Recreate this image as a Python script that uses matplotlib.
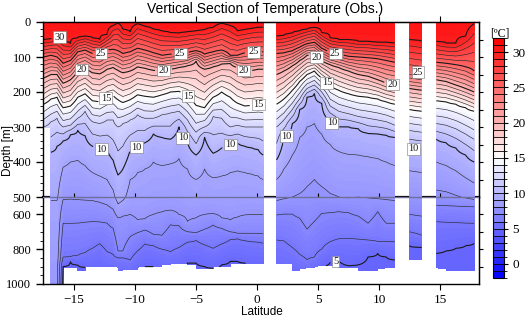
import numpy as np
import matplotlib
matplotlib.use("Agg")
import matplotlib.pyplot as plt
from matplotlib.colors import ListedColormap, BoundaryNorm
from matplotlib.cm import ScalarMappable
from matplotlib.ticker import FixedLocator, MultipleLocator

nan = np.nan
# ---------------- data: station latitudes (zero-bottom columns are data gaps)
lat = [-17.5, -16.9, -16.4, -15.9, -15.3, -14.7, -14.1, -13.5, -12.9, -12.3, -11.8, -11.4, -11.0,
       -10.4, -9.8, -9.2, -8.5, -7.8, -7.1, -6.4, -5.7, -5.0, -4.3, -3.6, -2.9, -2.2, -1.6, -1.0,
       -0.4, 0.1, 0.5,
       1.0,
       1.6, 2.2, 2.9, 3.5, 4.1, 4.7, 5.3, 6.0, 6.7, 7.5, 8.3, 9.1, 9.9, 10.6, 11.3,
       11.9,
       12.5, 13.5,
       14.1,
       14.7, 15.5, 16.3, 17.1, 17.8]
# deepest observed depth at each station [m]
bottom = [300, 1000, 1000, 1000, 903, 920, 920, 902, 902, 902, 902, 925, 925, 916, 916, 902, 902, 902,
          885, 885, 885, 911, 911, 911, 902, 902, 883, 883, 883, 883, 880,
          0,
          880, 880, 920, 920, 908, 908, 897, 897, 905, 905, 920, 920, 920, 908, 908,
          0,
          862, 862,
          0,
          908, 926, 920, 920, 920]
surface_temp = 30.6
deep_temp = 4.0
# depth [m] of isotherms at each station
d30 = [50, 48, 42, 55, 62, 45, 40, 45, 50, 35, 10, 3, 20, 28, 5, 12, 20, 26, 30, 32, 28, 25, 22, 15, 3, 10, 25, 22, 18, 15, 15,
       nan, 40, 38, 32, 25, 20, 15, 30, 45, 50, 50, 55, 55, 58, 58, 60, nan, 50, 55, nan, 55, 60, 60, 40, 5]
d25 = [100, 95, 100, 118, 110, 85, 80, 90, 92, 80, 78, 82, 90, 85, 75, 80, 88, 95, 92, 90, 88, 82, 92, 85, 80, 95, 95, 88, 85, 85, 85,
       nan, 90, 88, 82, 72, 62, 58, 75, 88, 92, 98, 100, 102, 105, 110, 115, nan, 140, 145, nan, 115, 118, 122, 128, 140]
d20 = [160, 150, 150, 175, 165, 140, 130, 145, 148, 135, 130, 138, 145, 140, 128, 132, 138, 140, 135, 130, 125, 112, 135, 128, 120, 118, 130, 140, 138, 135, 135,
       nan, 150, 140, 125, 110, 95, 95, 110, 122, 130, 140, 150, 155, 165, 175, 180, nan, 190, 195, nan, 165, 170, 180, 190, 200]
d15 = [235, 220, 215, 245, 240, 215, 205, 225, 228, 215, 210, 222, 230, 222, 208, 212, 215, 208, 200, 198, 210, 238, 245, 215, 200, 215, 232, 240, 238, 236, 238,
       nan, 235, 220, 195, 170, 150, 140, 160, 182, 195, 205, 212, 215, 220, 228, 235, nan, 250, 255, nan, 225, 228, 235, 245, 255]
d12 = [300, 285, 275, 300, 295, 275, 255, 285, 290, 280, 280, 300, 290, 280, 265, 275, 275, 265, 260, 255, 280, 315, 300, 270, 275, 300, 295, 300, 300, 300, 300,
       nan, 300, 280, 250, 220, 190, 180, 200, 240, 255, 262, 270, 275, 280, 285, 295, nan, 310, 315, nan, 290, 295, 305, 320, 335]
d10 = [385, 372, 355, 340, 322, 310, 325, 355, 362, 366, 395, 437, 420, 366, 355, 345, 320, 330, 335, 300, 345, 380, 330, 375, 360, 350, 345, 355, 360, 365, 380,
       nan, 394, 330, 290, 250, 215, 204, 232, 280, 299, 299, 305, 318, 320, 323, 330, nan, 360, 365, nan, 335, 345, 360, 380, 400]
d9 = [460, 520, 520, 415, 400, 395, 410, 430, 440, 450, 480, 540, 520, 450, 430, 420, 400, 410, 405, 390, 420, 450, 420, 445, 440, 430, 425, 430, 435, 440, 450,
      nan, 450, 420, 380, 330, 300, 290, 320, 350, 370, 378, 380, 385, 390, 400, 410, nan, 425, 430, nan, 400, 410, 425, 445, 460]
d8 = [525, 1100, 1100, 515, 512, 515, 518, 520, 530, 545, 570, 620, 610, 600, 630, 625, 600, 585, 575, 600, 640, 620, 600, 595, 620, 632, 615, 603, 600, 600, 600,
      nan, 520, 510, 500, 490, 470, 450, 470, 490, 500, 505, 500, 505, 510, 515, 520, nan, 500, 505, nan, 480, 485, 495, 505, 515]
d7 = [655, 1150, 1150, 651, 651, 650, 645, 641, 643, 650, 680, 810, 810, 728, 705, 690, 715, 720, 660, 665, 700, 705, 685, 661, 680, 700, 709, 709, 709, 709, 712,
      nan, 603, 598, 598, 622, 685, 640, 594, 590, 584, 590, 610, 651, 584, 651, 651, nan, 600, 610, nan, 548, 550, 552, 555, 556]
d6 = [850, 1200, 1200, 845, 843, 835, 820, 795, 768, 814, 830, 850, 850, 862, 810, 770, 780, 800, 814, 790, 760, 750, 775, 795, 770, 745, 740, 750, 757, 760, 765,
      nan, 747, 752, 790, 830, 860, 845, 800, 757, 740, 737, 742, 747, 755, 757, 757, nan, 700, 720, nan, 642, 645, 647, 650, 651]
d5 = [950, 1250, 1250, 900, 872, 891, 905, 910, 910, 920, 930, 940, 940, 950, 920, 900, 900, 910, 920, 910, 880, 880, 900, 910, 890, 870, 870, 880, 890, 890, 890,
      nan, 960, 960, 960, 960, 960, 930, 900, 875, 865, 895, 890, 845, 825, 845, 862, nan, 780, 790, nan, 824, 810, 795, 780, 766]
iso_temps = [30, 25, 20, 15, 12, 10, 9, 8, 7, 6, 5]

# ---------------- build the section from the isotherm table
lat_arr = np.array(lat, float)
depth = np.arange(0, 1000.1, 2.5)
iso = np.array([d30, d25, d20, d15, d12, d10, d9, d8, d7, d6, d5], float)
T = np.full((depth.size, lat_arr.size), np.nan)
for j in range(lat_arr.size):
    if bottom[j] <= 0:
        continue
    zs, ts = [0.0], [surface_temp]
    for k, tk in enumerate(iso_temps):
        if iso[k, j] > zs[-1]:
            zs.append(iso[k, j]); ts.append(tk)
    zs.append(max(1300.0, zs[-1] + 50)); ts.append(deep_temp)
    col = np.interp(depth, zs, ts)
    col[depth > bottom[j]] = np.nan
    T[:, j] = col
Tm = np.ma.masked_invalid(T)

# ---------------- figure
serif = ['Liberation Serif', 'DejaVu Serif']
sans = ['Liberation Sans', 'DejaVu Sans']
fig = plt.figure(figsize=(5.25, 3.21), dpi=100)
L, W = 43 / 525, 436 / 525
ax1 = fig.add_axes([L, 1 - 197 / 321, W, 175 / 321])
ax2 = fig.add_axes([L, 1 - 284 / 321, W, 87 / 321])

cmap = plt.get_cmap('bwr')
fill_levels = np.arange(-2, 32.01, 0.2)
minor_levels = [l for l in range(1, 32) if l % 5 != 0]
major_levels = [5, 10, 15, 20, 25, 30]
css = []
for ax in (ax1, ax2):
    ax.contourf(lat_arr, depth, Tm, levels=fill_levels, cmap=cmap, vmin=-2, vmax=32, zorder=1)
    ax.contour(lat_arr, depth, Tm, levels=minor_levels, colors='#2a2a2a', linewidths=0.45, zorder=2)
    cs = ax.contour(lat_arr, depth, Tm, levels=major_levels, colors='#1a1a1a', linewidths=0.8, zorder=2)
    css.append(cs)
    ax.set_xlim(-17.55, 18.2)

ax1.set_ylim(500, 0)
ax2.set_ylim(1000, 500)

# contour labels
pos1 = [(-16.1, 30), (-12.8, 90), (-6.3, 92), (-0.3, 86), (6.4, 92), (13.2, 143),
        (-14.3, 143), (-7.7, 131), (-1.1, 140), (4.75, 106), (11.1, 180),
        (-12.2, 226), (-5.3, 200), (0.1, 237), (5.8, 171),
        (-12.8, 368), (-9.9, 357), (-6.0, 329), (-2.2, 349), (6.3, 283), (2.4, 326), (12.8, 363)]
pos2 = [(6.4, 862)]
for cs, pos in zip(css, (pos1, pos2)):
    txts = cs.clabel(manual=pos, inline=True, inline_spacing=2, fontsize=7.5, fmt='%d')
    for t in txts:
        t.set_rotation(0)
        t.set_fontfamily(serif)
        t.set_bbox(dict(boxstyle='square,pad=0.12', fc='white', ec='#777777', lw=0.4))
        t.set_zorder(4)

# 500 m division line: black where there is no data, faint over the data
ax2.spines['top'].set_visible(False)
ax1.spines['bottom'].set_zorder(0.5)
ax1.spines['bottom'].set_linewidth(1.6)
for ax in (ax1, ax2):
    ax.axhline(500, color='#6f6f9a', lw=1.0, zorder=3)

xt = [-15, -10, -5, 0, 5, 10, 15]
# upper axes ticks
ax1.set_xticks(xt)
ax1.tick_params(axis='x', direction='in', length=3, labelbottom=False)
sx = ax1.secondary_xaxis('top')
sx.set_xticks(xt)
sx.tick_params(direction='out', length=4, labeltop=False)
ax1.set_yticks([0, 100, 200, 300, 400, 500])
ax1.yaxis.set_minor_locator(MultipleLocator(20))
ax1.tick_params(axis='y', which='major', direction='out', length=5, width=1.0, labelsize=9)
ax1.tick_params(axis='y', which='minor', direction='out', length=2.5)
sy = ax1.secondary_yaxis('right')
sy.set_yticks(np.arange(50, 500, 50))
sy.tick_params(direction='out', length=3, labelright=False)

# lower axes ticks
ax2.set_xticks(xt)
ax2.tick_params(axis='x', direction='out', length=4, labelsize=9.5)
ax2.set_yticks([600, 800, 1000])
ax2.yaxis.set_minor_locator(FixedLocator(np.arange(550, 1000, 50)))
ax2.tick_params(axis='y', which='major', direction='out', length=5, width=1.0, labelsize=9)
ax2.tick_params(axis='y', which='minor', direction='out', length=2.5)
sy2 = ax2.secondary_yaxis('right')
sy2.set_yticks([600, 700, 800, 900])
sy2.tick_params(direction='out', length=3, labelright=False)
ax2.xaxis.set_major_formatter(plt.FuncFormatter(lambda v, p: ('\u2212%d' % -v) if v < 0 else '%d' % v))

for ax in (ax1, ax2):
    for lab in ax.get_yticklabels() + ax.get_xticklabels():
        lab.set_fontfamily(serif)
    for name, sp in ax.spines.items():
        if sp.get_zorder() != 0.5:
            sp.set_linewidth(1.0)

# titles and axis labels
fig.text(265 / 525, 1 - 9 / 321, 'Vertical Section of Temperature (Obs.)', ha='center', va='center',
         fontsize=10, family=sans)
fig.text(8 / 525, 1 - 150 / 321, 'Depth [m]', rotation=90, ha='center', va='center', fontsize=8.5, family=sans)
fig.text(262 / 525, 1 - 312 / 321, 'Latitude', ha='center', va='center', fontsize=8.5, family=sans)

# colorbar with 1 degree blocks
bounds = np.arange(-2, 33, 1)
block_cols = cmap((bounds[:-1] + 0.5 + 2) / 34.0)
cmap_d = ListedColormap(block_cols)
norm_d = BoundaryNorm(bounds, cmap_d.N)
cax = fig.add_axes([493 / 525, 1 - 278 / 321, 10.5 / 525, 240 / 321])
cb = fig.colorbar(ScalarMappable(norm=norm_d, cmap=cmap_d), cax=cax, drawedges=True,
                  ticks=[0, 5, 10, 15, 20, 25, 30])
cb.dividers.set_linewidth(0.6)
cb.dividers.set_color('black')
cb.outline.set_linewidth(0.8)
cax.tick_params(direction='out', length=3, labelsize=9.5)
for lab in cax.get_yticklabels():
    lab.set_fontfamily(serif)
fig.text(500 / 525, 1 - 33 / 321, '[\u00baC]', ha='center', va='center', fontsize=8.5, family=serif)

fig.savefig('out.png', dpi=100)
